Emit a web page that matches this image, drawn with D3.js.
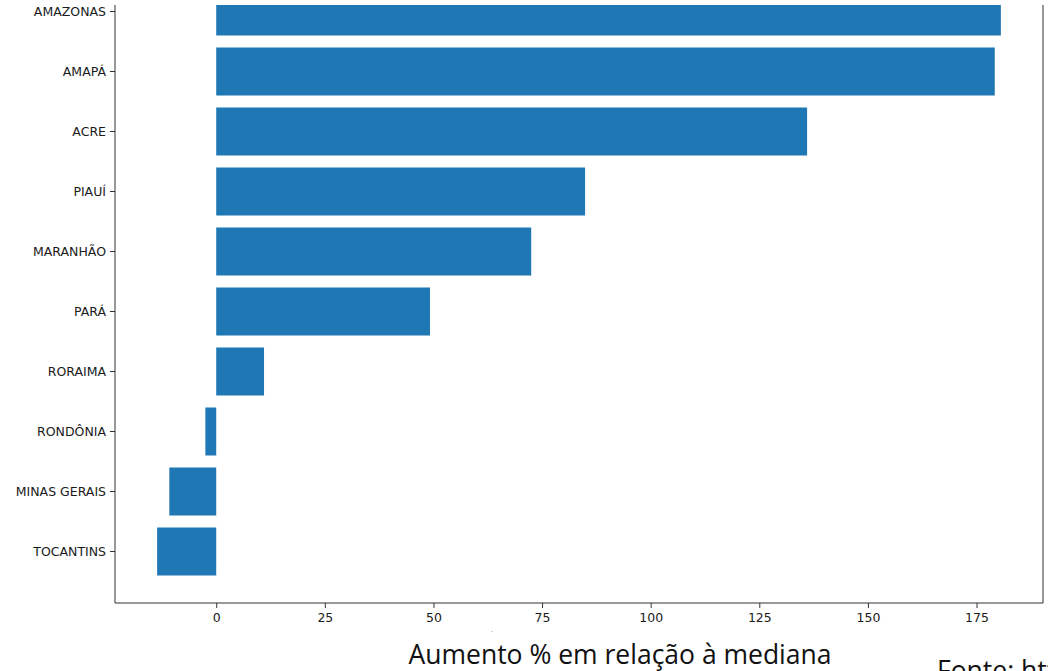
<!DOCTYPE html>
<html><head><meta charset="utf-8">
<script src="https://cdn.jsdelivr.net/npm/d3@7"></script>
<style>body{margin:0;background:#fff;overflow:hidden}svg{display:block}</style>
</head><body>
<script>
const categories = ["AMAZONAS","AMAPÁ","ACRE","PIAUÍ","MARANHÃO","PARÁ","RORAIMA","RONDÔNIA","MINAS GERAIS","TOCANTINS"];
const values = [180.6, 179.2, 136.0, 84.9, 72.5, 49.2, 11.0, -2.5, -10.8, -13.6];
const xTicks = [0, 25, 50, 75, 100, 125, 150, 175];
const xLabel = "Aumento % em relação à mediana";
const sourceText = "Fonte: https://";

(function () {
const W = 1048, H = 671;
const svg = d3.select("body").append("svg").attr("width", W).attr("height", H);

const left = 115, right = 1043, bottom = 603;
const x = d3.scaleLinear().domain([-23.3, 190.3]).range([left, right]);
const y = d3.scaleBand().domain(categories)
  .range([-18.5, 581.5])
  .paddingInner(0.2).paddingOuter(0.1);

svg.append("defs").append("clipPath").attr("id", "clip")
  .append("rect").attr("x", 0).attr("y", 5).attr("width", W).attr("height", H - 5);

const g = svg.append("g").attr("clip-path", "url(#clip)");

g.selectAll("rect.bar").data(categories).join("rect")
  .attr("class", "bar")
  .attr("x", (d, i) => x(Math.min(0, values[i])))
  .attr("width", (d, i) => Math.abs(x(values[i]) - x(0)))
  .attr("y", d => y(d))
  .attr("height", y.bandwidth())
  .attr("fill", "#1f77b4");

// spines
g.append("line").attr("x1", left).attr("x2", left).attr("y1", -30).attr("y2", bottom)
  .attr("stroke", "#333").attr("stroke-width", 1);
g.append("line").attr("x1", right).attr("x2", right).attr("y1", -30).attr("y2", bottom)
  .attr("stroke", "#333").attr("stroke-width", 1);
g.append("line").attr("x1", left).attr("x2", right).attr("y1", bottom).attr("y2", bottom)
  .attr("stroke", "#333").attr("stroke-width", 1);

// y axis
const yAxis = d3.axisLeft(y).tickSize(5).tickPadding(4);
const ya = g.append("g").attr("transform", `translate(${left},0)`).call(yAxis);
ya.select(".domain").remove();
ya.selectAll("line").attr("stroke", "#333");
ya.selectAll("text").attr("font-family", "DejaVu Sans").attr("font-size", 12.5).attr("fill", "#1a1a1a");

// x axis
const xAxis = d3.axisBottom(x).tickValues(xTicks).tickSize(5).tickPadding(5);
const xa = svg.append("g").attr("transform", `translate(0,${bottom})`).call(xAxis);
xa.select(".domain").remove();
xa.selectAll("line").attr("stroke", "#333");
xa.selectAll("text").attr("font-family", "DejaVu Sans").attr("font-size", 12.5).attr("fill", "#1a1a1a");

svg.append("text").attr("x", 492).attr("y", 632).attr("text-anchor", "middle")
  .attr("font-family", "DejaVu Sans").attr("font-size", 6).attr("fill", "#444").text(".");

svg.append("text").attr("x", 620).attr("y", 664).attr("text-anchor", "middle")
  .attr("font-family", "Open Sans").attr("font-size", 26.5).attr("fill", "#111").text(xLabel);

svg.append("text").attr("x", 937).attr("y", 680)
  .attr("font-family", "Open Sans").attr("font-size", 26.5).attr("fill", "#111").text(sourceText);
})();
</script>
</body></html>
